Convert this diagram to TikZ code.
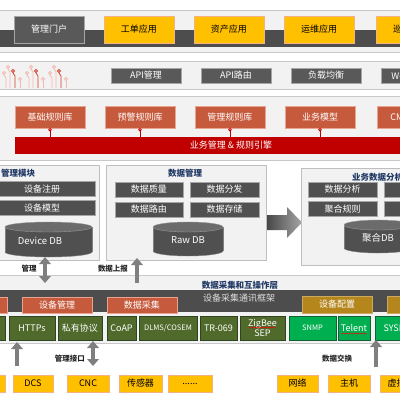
\documentclass[tikz,border=0pt]{standalone}
\usepackage{fontspec}
\setmainfont{Noto Sans CJK SC}
\usetikzlibrary{arrows.meta,decorations.pathmorphing}
\definecolor{bandfill}{HTML}{F2F2F2}
\definecolor{bandline}{HTML}{C8C8C8}
\definecolor{darkbar}{HTML}{4D4D4D}
\definecolor{dgbox}{HTML}{595959}
\definecolor{dgline}{HTML}{A6A6A6}
\definecolor{orbox}{HTML}{FFC000}
\definecolor{orline}{HTML}{F4B183}
\definecolor{rulebox}{HTML}{C65A3C}
\definecolor{ruleline}{HTML}{E8A48E}
\definecolor{redbar}{HTML}{C00000}
\definecolor{panelline}{HTML}{BFBFBF}
\definecolor{dkgreen}{HTML}{4F6A2B}
\definecolor{dkgreenline}{HTML}{2F4420}
\definecolor{brgreen}{HTML}{00B050}
\definecolor{brgreenline}{HTML}{125F33}
\definecolor{goldbox}{HTML}{B5861C}
\definecolor{titleblue}{HTML}{1F3864}
\definecolor{arrowgray}{HTML}{7F7F7F}
\definecolor{midbox}{HTML}{505050}
\definecolor{dbbody}{HTML}{505050}
\definecolor{dbtop}{HTML}{6B6B6B}
\definecolor{circpink}{HTML}{F2B8B0}
\definecolor{circred}{HTML}{D0412E}
\newcommand\myfs[1]{\fontsize{#1}{#1}\selectfont}
\begin{document}
\begin{tikzpicture}[x=1pt,y=-1pt,
 bx/.style={inner sep=0pt,outer sep=0pt,align=center,line width=0.6pt},
 darkapp/.style={bx,fill=dgbox,draw=dgline,text=white,minimum width=70pt,minimum height=27pt,font=\myfs{9}},
 orapp/.style={bx,fill=orbox,draw=orline,text=black,minimum width=70pt,minimum height=27pt,font=\myfs{9}},
 apibox/.style={bx,fill=dgbox,draw=dgline,text=white,minimum width=70pt,minimum height=15pt,font=\myfs{9}},
 rulebx/.style={bx,fill=rulebox,draw=ruleline,text=white,minimum width=70pt,minimum height=22pt,font=\myfs{9}},
 panel/.style={bx,fill=bandfill,draw=panelline},
 ptitle/.style={inner sep=0pt,text=titleblue,font=\myfs{8.5}\bfseries},
 mbox/.style={bx,fill=midbox,draw=dgline,text=white,minimum height=15pt,font=\myfs{9}},
 dbtext/.style={inner sep=0pt,text=white,font=\myfs{9.5}},
 redbx/.style={bx,fill=rulebox,draw=ruleline,text=white,minimum width=70pt,minimum height=16pt,font=\myfs{9}},
 goldbx/.style={bx,fill=goldbox,draw=goldbox!70!white,text=white,minimum width=70pt,minimum height=17pt,font=\myfs{9}},
 dgproto/.style={bx,fill=dkgreen,draw=dkgreenline,text=white,minimum height=24pt,font=\myfs{9}},
 bgproto/.style={bx,fill=brgreen,draw=brgreenline,text=white,minimum height=24pt,font=\myfs{9}},
 dev/.style={bx,fill=orbox,draw=orline,text=black,minimum height=17pt,font=\myfs{9}},
 lbl/.style={inner sep=0pt,font=\myfs{7.5}\bfseries,text=black!85},
 fatup/.style={draw=arrowgray,line width=4.5pt,-{Triangle[length=7pt,width=12pt,line width=0pt]}},
 fatboth/.style={draw=arrowgray,line width=4.5pt,{Triangle[length=7pt,width=12pt,line width=0pt]}-{Triangle[length=7pt,width=12pt,line width=0pt]}},
 rulelink/.style={draw=redbar,line width=0.8pt,{Circle[length=3.4pt,width=3.4pt,line width=0.8pt,fill=white]}-},
 squig/.style={draw=red,line width=0.35pt,decorate,decoration={snake,amplitude=0.5pt,segment length=2pt}},
 bandl/.style={draw=bandline,line width=0.7pt}
]
\useasboundingbox (0,0) rectangle (400,400);
\clip (0,0) rectangle (400,400);
\fill[white] (0,0) rectangle (400,400);

% ---------- Row 1: applications
\fill[bandfill] (0,10) rectangle (400,52);
\draw[bandl] (0,10) -- (400,10) (0,52) -- (400,52);
\fill[darkbar] (0,30) rectangle (400,47);
\node[darkapp] (portal) at (49,29.5) {管理门户};
\node[orapp] (work) at (139,29.5) {工单应用};
\node[orapp] (asset) at (229,29.5) {资产应用};
\node[orapp] (ops) at (319,29.5) {运维应用};
\node[orapp] (insp) at (411,29.5) {巡检应用};

% ---------- Row 2: API gateway
\fill[bandfill] (0,61) rectangle (400,89);
\draw[bandl] (0,61) -- (400,61) (0,89) -- (400,89);
\foreach \ox in {6,29,52}{
  \draw[circpink,line width=0.8pt] (\ox,88) -- (\ox,78) -- (\ox-2,75) -- (\ox-2,74.5);
  \draw[circpink,line width=0.8pt,fill=white] (\ox-2,73) circle (1.5pt);
  \draw[circpink,line width=0.8pt] (\ox+4,88) -- (\ox+4,72) -- (\ox+2,69) -- (\ox+2,68.5);
  \draw[circpink,line width=0.8pt,fill=white] (\ox+2,67) circle (1.5pt);
  \draw[circred,line width=0.8pt] (\ox+9,88) -- (\ox+9,76) -- (\ox+7,73) -- (\ox+7,72.5);
  \draw[circred,line width=0.8pt,fill=white] (\ox+7,71) circle (1.5pt);
  \draw[circpink,line width=0.8pt] (\ox+14,88) -- (\ox+14,80.5);
  \draw[circpink,line width=0.8pt,fill=white] (\ox+14,79) circle (1.5pt);
}
\node[apibox] (apim) at (146,75.5) {API管理};
\node[apibox] (apir) at (236,75.5) {API路由};
\node[apibox] (lb) at (326,75.5) {负载均衡};
\node[apibox] (ws) at (416,75.5) {WebService};

% ---------- Row 3: rules
\fill[bandfill] (0,96) rectangle (400,160);
\draw[bandl] (0,96) -- (400,96) (0,160) -- (400,160);
\node[rulebx] (r1) at (50,117) {基础规则库};
\node[rulebx] (r2) at (140,117) {预警规则库};
\node[rulebx] (r3) at (230,117) {管理规则库};
\node[rulebx] (r4) at (320,117) {业务模型};
\node[rulebx] (r5) at (412,117) {CMDB模型};
\node[bx,fill=redbar,text=white,minimum width=432pt,minimum height=17pt,font=\myfs{9}] (engine) at (231,145.5) {业务管理 \& 规则引擎};
\foreach \r in {r1,r2,r3,r4,r5}{
  \draw[rulelink] (\r.south) -- (\r.south |- engine.north);
}

% ---------- Middle panels
\node[panel,minimum width=110pt,minimum height=95pt] (devpanel) at (44,212.5) {};
\node[ptitle,anchor=west] (devtitle) at (1,173) {管理模块};
\node[mbox,minimum width=106pt] (reg) at (42,189) {设备注册};
\node[mbox,minimum width=106pt] (model) at (42,208) {设备模型};
% Device DB
\fill[dbbody,draw=gray] (48.5,252) ellipse [x radius=43.5, y radius=5];
\fill[dbbody] (5,227) rectangle (92,252);
\draw[gray] (5,227) -- (5,252) (92,227) -- (92,252);
\fill[dbtop,draw=gray!80] (48.5,227) ellipse [x radius=43.5, y radius=5];
\node[dbtext] (devdb) at (40,241) {Device DB};

\node[panel,minimum width=160pt,minimum height=95pt] (datapanel) at (186,212.5) {};
\node[ptitle] (datatitle) at (185,173) {数据管理};
\node[mbox,minimum width=68pt] (quality) at (149,189.5) {数据质量};
\node[mbox,minimum width=69pt] (distrib) at (224.5,189.5) {数据分发};
\node[mbox,minimum width=68pt] (route) at (149,209.5) {数据路由};
\node[mbox,minimum width=69pt] (store) at (224.5,209.5) {数据存储};
% Raw DB
\fill[dbbody,draw=gray] (188,251) ellipse [x radius=35, y radius=5];
\fill[dbbody] (153,227) rectangle (223,251);
\draw[gray] (153,227) -- (153,251) (223,227) -- (223,251);
\fill[dbtop,draw=gray!80] (188,227) ellipse [x radius=35, y radius=5];
\node[dbtext] (rawdb) at (188,240) {Raw DB};

% big arrow
\shade[left color=black!72,right color=black!35] (267,215) -- (287,215) -- (287,207) -- (302,222.5) -- (287,238) -- (287,230) -- (267,230) -- cycle;

\node[panel,minimum width=130pt,minimum height=97pt] (bizpanel) at (366,216.5) {};
\node[ptitle,anchor=west] (biztitle) at (352,177) {业务数据分析模块};
\node[mbox,minimum width=69pt] (analysis) at (342.5,189.5) {数据分析};
\node[mbox,minimum width=69pt] (bx1) at (418.5,189.5) {};
\node[mbox,minimum width=69pt] (aggrule) at (342.5,209) {聚合规则};
\node[mbox,minimum width=69pt] (bx2) at (418.5,209) {};
% 聚合DB
\fill[dbbody,draw=gray] (378,248) ellipse [x radius=34, y radius=5];
\fill[dbbody] (344,225) rectangle (412,248);
\draw[gray] (344,225) -- (344,248) (412,225) -- (412,248);
\fill[dbtop,draw=gray!80] (378,225) ellipse [x radius=34, y radius=5];
\node[dbtext] (aggdb) at (378,238) {聚合DB};

% ---------- Bottom band
\fill[bandfill] (0,275) rectangle (400,343);
\draw[bandl] (0,275) -- (400,275) (0,343) -- (400,343);
\node[ptitle] (acqtitle) at (240,285) {数据采集和互操作层};
\fill[darkbar] (0,290) rectangle (400,312);
\node[anchor=west,inner sep=0pt,text=white!88!black,font=\myfs{9}] (frame) at (203,298.5) {设备采集通讯框架};
\node[redbx] (rb0) at (-28,305) {};
\node[redbx] (devmgmt) at (57,305) {设备管理};
\node[redbx] (datacol) at (142,305) {数据采集};
\node[goldbx] (devcfg) at (337,304.5) {设备配置};
\node[goldbx] (gb2) at (422,304.5) {};

\node[dgproto,minimum width=45pt] (p0) at (-17.5,328) {};
\node[dgproto,minimum width=46pt] (https) at (32,328) {HTTPs};
\node[dgproto,minimum width=44pt] (priv) at (80,328) {私有协议};
\node[dgproto,minimum width=29pt] (coap) at (121.5,328) {CoAP};
\node[dgproto,minimum width=58pt,font=\myfs{7.5}] (dlms) at (168,328) {DLMS/COSEM};
\node[dgproto,minimum width=37pt] (tr) at (218.5,328) {TR-069};
\node[dgproto,minimum width=45pt,font=\fontsize{9}{10}\selectfont] (zig) at (262.5,328) {ZigBee\\SEP};
\node[bgproto,minimum width=47pt,font=\myfs{7.5}] (snmp) at (312.5,328) {SNMP};
\node[bgproto,minimum width=32pt] (telnet) at (354,328) {Telent};
\node[bgproto,minimum width=50pt] (syslog) at (400,328) {SYSLOG};
\draw[squig] (249,327.5) -- (276,327.5);
\draw[squig] (341,333.5) -- (367,333.5);

% bottom devices
\node[dev,minimum width=40pt] (d0) at (-15,383.5) {};
\node[dev,minimum width=40pt] (dcs) at (33,383.5) {DCS};
\node[dev,minimum width=42pt] (cnc) at (88,383.5) {CNC};
\node[dev,minimum width=43pt] (sensor) at (140.5,383.5) {传感器};
\node[dev,minimum width=44pt] (more) at (190,383.5) {......};
\node[dev,minimum width=41pt] (net) at (297.5,383.5) {网络};
\node[dev,minimum width=42pt] (host) at (349,383.5) {主机};
\node[dev,minimum width=42pt] (vm) at (401,383.5) {虚拟机};

% arrows between layers
\coordinate (m1) at (45,257);
\coordinate (m2) at (45,283);
\draw[fatboth] (m1) -- (m2);
\node[lbl] (lm) at (29,269) {管理};
\coordinate (u1) at (137,283);
\coordinate (u2) at (137,258);
\draw[fatup] (u1) -- (u2);
\node[lbl] (lu) at (113,269) {数据上报};

\coordinate (h1) at (17,366);
\coordinate (h2) at (17,342);
\draw[fatup] (h1) -- (h2);
\coordinate (c1) at (93,341);
\coordinate (c2) at (93,366);
\draw[fatboth] (c1) -- (c2);
\node[lbl] (lc) at (70,359) {管理接口};
\coordinate (x1) at (376,367);
\coordinate (x2) at (376,340);
\draw[fatup] (x1) -- (x2);
\node[lbl] (lx) at (337,359) {数据交换};
\end{tikzpicture}
\end{document}
